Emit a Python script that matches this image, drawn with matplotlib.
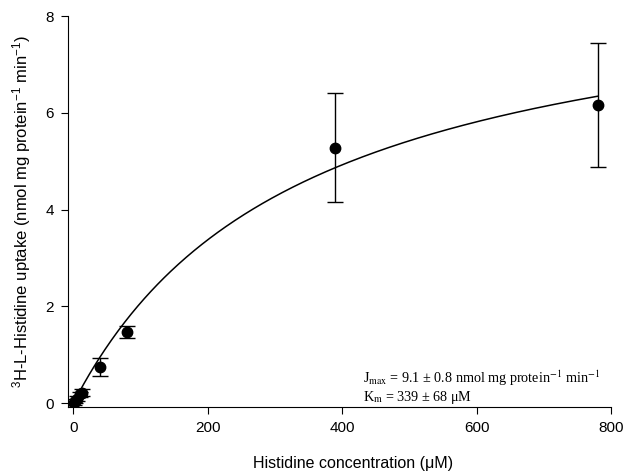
import numpy as np
import matplotlib
matplotlib.use("Agg")
import matplotlib.pyplot as plt

conc = [0.5, 2.5, 5, 10, 12.5, 40, 80, 390, 780]
uptake = [0.0, 0.05, 0.09, 0.18, 0.22, 0.75, 1.47, 5.28, 6.17]
err = [0.03, 0.04, 0.05, 0.06, 0.07, 0.18, 0.13, 1.12, 1.28]
jmax = 9.1
km = 339.0

xticks = [0, 200, 400, 600, 800]
yticks = [0, 2, 4, 6, 8]

plt.rcParams['font.family'] = ['Liberation Sans', 'DejaVu Sans']
plt.rcParams['mathtext.fontset'] = 'custom'
plt.rcParams['mathtext.rm'] = 'Liberation Sans'
plt.rcParams['mathtext.it'] = 'Liberation Sans'
fig = plt.figure(figsize=(6.25, 4.73), dpi=100)
ax = fig.add_axes([0.1088, 0.1395, 0.8688, 0.8265])

xf = np.linspace(0, max(conc), 400)
ax.plot(xf, jmax * xf / (km + xf), color='black', lw=1.1)
ax.errorbar(conc, uptake, yerr=err, fmt='o', color='black', ms=7.5,
            capsize=5.5, elinewidth=1.0, capthick=1.0)

ax.set_xlim(-8, 800)
ax.set_ylim(-0.08, 8)
ax.set_xticks(xticks)
ax.set_yticks(yticks)
for s in ['top', 'right']:
    ax.spines[s].set_visible(False)
ax.tick_params(direction='out', length=5, labelsize=11, pad=5)
ax.set_xlabel('Histidine concentration (\u03bcM)', fontsize=11.5)
ax.xaxis.set_label_coords(0.525, -0.125)
ax.set_ylabel('$^{3}$H-L-Histidine uptake (nmol mg protein$^{-1}$ min$^{-1}$)',
              fontsize=12, labelpad=9)

ax.text(431, 0.52, 'J$_{\\mathrm{max}}$ = 9.1 \u00b1 0.8 nmol mg protein$^{-1}$ min$^{-1}$',
        fontsize=10.2, family='Liberation Serif', va='center', math_fontfamily='stix')
ax.text(431, 0.12, 'K$_{\\mathrm{m}}$ = 339 \u00b1 68 \u03bcM',
        fontsize=10.2, family='Liberation Serif', va='center', math_fontfamily='stix')

fig.savefig('out.png', dpi=100)
